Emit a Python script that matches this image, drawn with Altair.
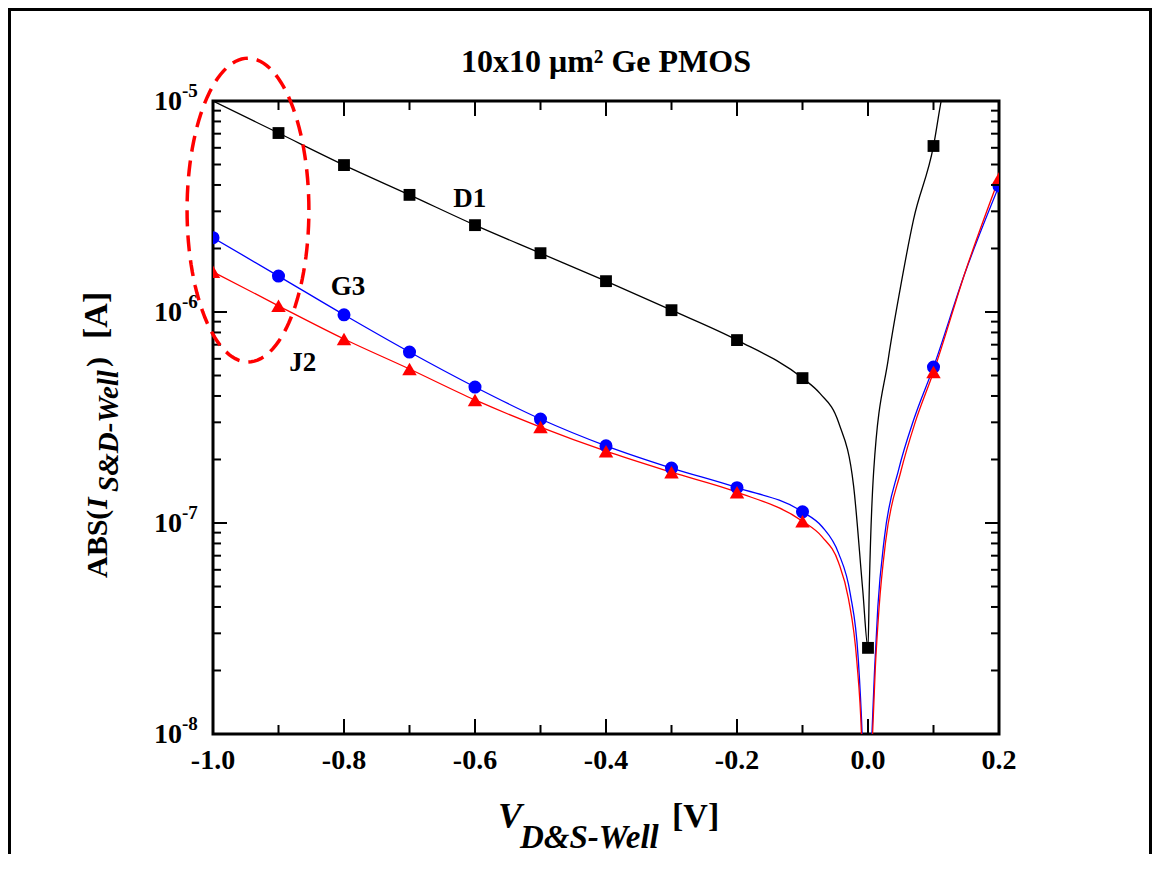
import altair as alt
import pandas as pd
import numpy as np

FONT = "Liberation Serif"

# ---------------- data ----------------
# D1 (black squares)
d1_v = [-0.9, -0.8, -0.7, -0.6, -0.5, -0.4, -0.3, -0.2, -0.1, 0.0, 0.1]
d1_i = [7.05e-6, 4.97e-6, 3.59e-6, 2.58e-6, 1.90e-6, 1.40e-6, 1.02e-6, 7.36e-7, 4.86e-7, 2.56e-8, 6.12e-6]
# G3 (blue circles)
g3_v = [-1.0, -0.9, -0.8, -0.7, -0.6, -0.5, -0.4, -0.3, -0.2, -0.1, 0.1, 0.2]
g3_i = [2.25e-6, 1.48e-6, 9.7e-7, 6.46e-7, 4.41e-7, 3.11e-7, 2.32e-7, 1.82e-7, 1.47e-7, 1.13e-7, 5.48e-7, 3.96e-6]
# J2 (red triangles)
j2_v = [-1.0, -0.9, -0.8, -0.7, -0.6, -0.5, -0.4, -0.3, -0.2, -0.1, 0.1, 0.2]
j2_i = [1.55e-6, 1.07e-6, 7.45e-7, 5.37e-7, 3.83e-7, 2.85e-7, 2.19e-7, 1.74e-7, 1.40e-7, 1.02e-7, 5.2e-7, 4.3e-6]

# continuous measured curves
d1_curve_v = [-1.0, -0.9, -0.8, -0.7, -0.6, -0.5, -0.4, -0.3, -0.2, -0.1, -0.073, -0.045,
              -0.022, -0.008, 0.0, 0.002, 0.0086, 0.031, 0.049, 0.0695, 0.1, 0.113, 0.12]
d1_curve_i = [1.0e-5, 7.05e-6, 4.97e-6, 3.59e-6, 2.58e-6, 1.90e-6, 1.40e-6, 1.02e-6, 7.36e-7, 4.86e-7,
              4.1e-7, 3.0e-7, 1.5e-7, 4.8e-8, 2.56e-8, 5.0e-8, 1.75e-7, 6.0e-7, 1.28e-6, 2.74e-6,
              6.12e-6, 1.05e-5, 1.3e-5]
g3_curve_v = [-1.0, -0.9, -0.8, -0.7, -0.6, -0.5, -0.4, -0.3, -0.2, -0.1, -0.07, -0.045, -0.027,
              -0.015, -0.009, -0.006, 0.003, 0.006, 0.010, 0.015, 0.025, 0.047, 0.07, 0.1, 0.148, 0.2]
g3_curve_i = [2.25e-6, 1.48e-6, 9.7e-7, 6.46e-7, 4.41e-7, 3.11e-7, 2.32e-7, 1.82e-7, 1.47e-7, 1.13e-7,
              9.6e-8, 7.2e-8, 4.6e-8, 2.3e-8, 1.0e-8, 5e-9, 5e-9, 1.0e-8, 2.0e-8, 4.0e-8, 8.5e-8,
              1.8e-7, 3.1e-7, 5.48e-7, 1.53e-6, 3.96e-6]
j2_curve_v = [-1.0, -0.9, -0.8, -0.7, -0.6, -0.5, -0.4, -0.3, -0.2, -0.1, -0.07, -0.045, -0.03,
              -0.017, -0.010, -0.007, 0.004, 0.007, 0.011, 0.017, 0.027, 0.05, 0.072, 0.1, 0.15, 0.2]
j2_curve_i = [1.55e-6, 1.07e-6, 7.45e-7, 5.37e-7, 3.83e-7, 2.85e-7, 2.19e-7, 1.74e-7, 1.40e-7, 1.02e-7,
              8.6e-8, 6.5e-8, 4.4e-8, 2.2e-8, 1.0e-8, 5e-9, 5e-9, 1.0e-8, 2.0e-8, 4.0e-8, 8.2e-8,
              1.75e-7, 3.0e-7, 5.2e-7, 1.6e-6, 4.3e-6]

# series labels
lab_text = ["D1", "G3", "J2"]
lab_v = [-0.608, -0.794, -0.863]
lab_i = [3.44e-6, 1.31e-6, 5.73e-7]

# axis ticks
x_major = [-1.0, -0.8, -0.6, -0.4, -0.2, 0.0, 0.2]
x_major_labels = ["-1.0", "-0.8", "-0.6", "-0.4", "-0.2", "0.0", "0.2"]
x_minor = [-0.9, -0.7, -0.5, -0.3, -0.1, 0.1]
y_major = [1e-8, 1e-7, 1e-6, 1e-5]
y_major_exp = ["-8", "-7", "-6", "-5"]
y_minor = [k * 10.0 ** d for d in (-8, -7, -6) for k in range(2, 10)]

# dashed ellipse annotation (center / radii in data space)
ell_cx, ell_rx = -0.9466, 0.0930
ell_cy, ell_ry = -5.517, 0.720   # log10 units

W, H = 786, 633
PAD_L, PAD_T, PAD_R, PAD_B = 205, 93, 153, 120
xs = alt.Scale(domain=[-1.0, 0.2], nice=False, zero=False)
ys = alt.Scale(type="log", domain=[1e-8, 1e-5], nice=False)

def X(f="v"):
    return alt.X(f"{f}:Q", scale=xs, axis=None)

def Y(f="i"):
    return alt.Y(f"{f}:Q", scale=ys, axis=None)

layers = []

# curves
for cv, ci, col in [(d1_curve_v, d1_curve_i, "black"), (g3_curve_v, g3_curve_i, "#0000ff"),
                    (j2_curve_v, j2_curve_i, "#ff0000")]:
    df = pd.DataFrame({"v": cv, "i": ci})
    layers.append(alt.Chart(df).mark_line(color=col, strokeWidth=1.3, clip=True,
                                          interpolate="monotone").encode(x=X(), y=Y()))

# markers
for mv, mi, col, shp, sz in [(d1_v, d1_i, "black", "square", 140),
                             (g3_v, g3_i, "#0000ff", "circle", 170),
                             (j2_v, j2_i, "#ff0000", "triangle-up", 210)]:
    df = pd.DataFrame({"v": mv, "i": mi})
    layers.append(alt.Chart(df).mark_point(shape=shp, filled=True, color=col, size=sz, opacity=1,
                                           clip=True).encode(x=X(), y=Y()))

# series labels
df_lab = pd.DataFrame({"v": lab_v, "i": lab_i, "t": lab_text})
layers.append(alt.Chart(df_lab).mark_text(font=FONT, fontSize=27, fontWeight="bold", color="black",
                                          align="center", baseline="middle").encode(
    x=X(), y=Y(), text="t:N"))

# ticks (inward, all four sides)
df_xmaj = pd.DataFrame({"v": x_major, "t": x_major_labels})
df_xmin = pd.DataFrame({"v": x_minor})
df_ymaj = pd.DataFrame({"i": y_major, "e": y_major_exp})
df_ymin = pd.DataFrame({"i": y_minor})
tick_style = dict(color="black", strokeWidth=2)
for df, L in [(df_xmaj, 15), (df_xmin, 9)]:
    layers.append(alt.Chart(df).mark_rule(**tick_style).encode(x=X(), y=alt.value(H), y2=alt.value(H - L)))
    layers.append(alt.Chart(df).mark_rule(**tick_style).encode(x=X(), y=alt.value(0), y2=alt.value(L)))
for df, L in [(df_ymaj, 14), (df_ymin, 8)]:
    layers.append(alt.Chart(df).mark_rule(**tick_style).encode(y=Y(), x=alt.value(0), x2=alt.value(L)))
    layers.append(alt.Chart(df).mark_rule(**tick_style).encode(y=Y(), x=alt.value(W), x2=alt.value(W - L)))

# x tick labels
layers.append(alt.Chart(df_xmaj).mark_text(font=FONT, fontSize=28, fontWeight="bold", color="black",
                                           align="center", baseline="top").encode(
    x=X(), y=alt.value(H + 13), text="t:N"))
# y tick labels: 10 with superscript exponent
layers.append(alt.Chart(df_ymaj).mark_text(font=FONT, fontSize=28, fontWeight="bold", color="black",
                                           align="right", baseline="middle", dy=1).encode(
    y=Y(), x=alt.value(-31), text=alt.value("10")))
layers.append(alt.Chart(df_ymaj).mark_text(font=FONT, fontSize=19, fontWeight="bold", color="black",
                                           align="left", baseline="middle", dy=-10).encode(
    y=Y(), x=alt.value(-31), text="e:N"))

# dashed ellipse
t = np.linspace(0, 2 * np.pi, 121)
df_ell = pd.DataFrame({"v": ell_cx + ell_rx * np.cos(t),
                       "i": 10 ** (ell_cy + ell_ry * np.sin(t)),
                       "o": np.arange(len(t))})
layers.append(alt.Chart(df_ell).mark_line(color="#ff0000", strokeWidth=3.5, strokeDash=[16, 9],
                                          clip=False).encode(x=X(), y=Y(), order="o:Q"))

# text annotations: title and axis titles (pixel positions relative to plot area)
one = pd.DataFrame({"a": [0]})
def txt(s, x, y, size, style="normal", angle=0, align="left", baseline="alphabetic"):
    kw = dict(font=FONT, fontSize=size, fontWeight="bold", fontStyle=style, color="black",
              align=align, baseline=baseline)
    if angle:
        kw["angle"] = angle
    return alt.Chart(one).mark_text(**kw).encode(x=alt.value(x), y=alt.value(y), text=alt.value(s))

layers.append(txt("10x10 \u03bcm\u00b2 Ge PMOS", 393, -29, 32, align="center"))
# x title
layers.append(txt("V", 285, 727, 36, style="italic"))
layers.append(txt("D&S-Well", 307, 747, 33, style="italic"))
layers.append(txt("[V]", 459, 726, 34))
# y title (rotated)
layers.append(txt("ABS(", -106, 477, 30, angle=270))
layers.append(txt("I", -106, 408, 30, style="italic", angle=270))
layers.append(txt("S&D-Well", -95, 391, 29, style="italic", angle=270))
layers.append(txt(")", -106, 266, 30, angle=270))
layers.append(txt("[A]", -106, 238, 34, angle=270))

# outer frame (left, top, right)
BOT = H + PAD_B
RIGHT = W + PAD_R
frame = dict(color="black", strokeWidth=3)
layers.append(alt.Chart(one).mark_rule(**frame).encode(x=alt.value(-203.5), y=alt.value(-PAD_T), y2=alt.value(BOT)))
layers.append(alt.Chart(one).mark_rule(**frame).encode(x=alt.value(-PAD_L), x2=alt.value(RIGHT), y=alt.value(-PAD_T + 1.5)))
layers.append(alt.Chart(one).mark_rule(**frame).encode(x=alt.value(RIGHT - 1.5), y=alt.value(-PAD_T), y2=alt.value(BOT)))

chart = alt.layer(*layers).properties(
    width=W, height=H,
    padding={"left": PAD_L, "top": PAD_T, "right": PAD_R, "bottom": PAD_B},
    autosize=alt.AutoSizeParams(type="none"),
    background="white",
).configure_view(stroke="black", strokeWidth=3)

chart.save("out.html", embed_options={"renderer": "svg", "actions": False})
